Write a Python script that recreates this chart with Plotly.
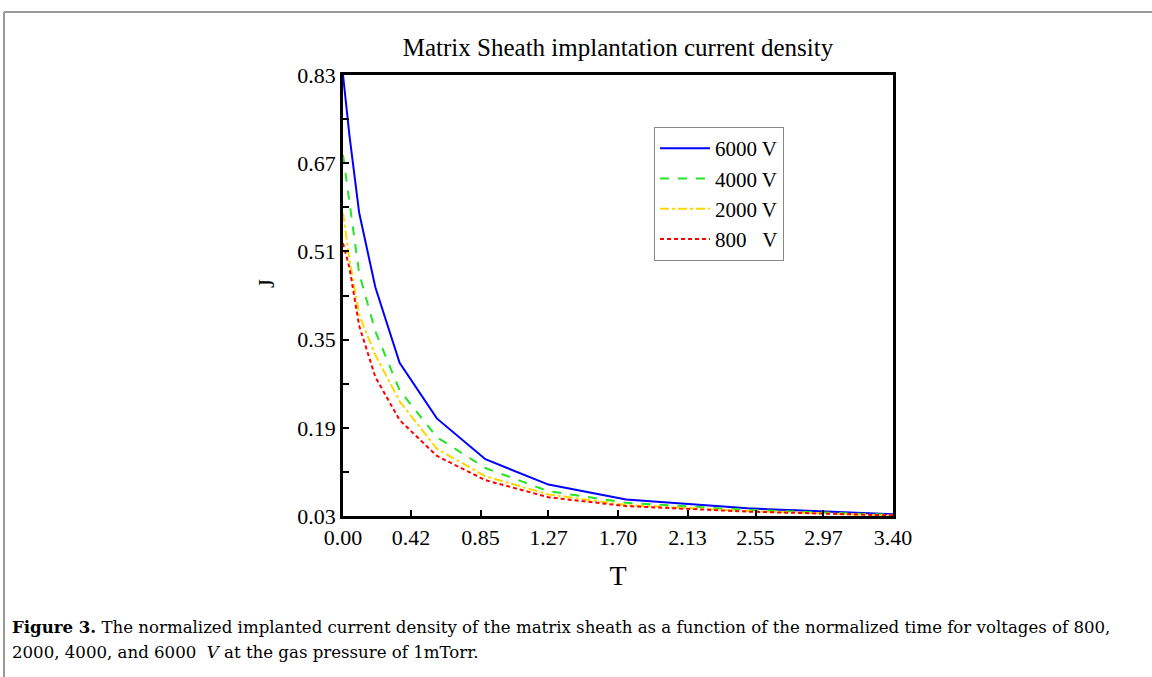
import plotly.graph_objects as go

# ---- data ----
T = [0.0, 0.04, 0.10, 0.20, 0.35, 0.58, 0.88, 1.27, 1.75, 2.50, 3.40]
J_6000 = [0.83, 0.72, 0.58, 0.445, 0.308, 0.207, 0.133, 0.087, 0.060, 0.044, 0.033]
J_4000 = [0.685, 0.600, 0.470, 0.365, 0.258, 0.173, 0.117, 0.075, 0.054, 0.041, 0.032]
J_2000 = [0.580, 0.495, 0.395, 0.322, 0.238, 0.152, 0.102, 0.069, 0.050, 0.039, 0.031]
J_800 = [0.525, 0.480, 0.375, 0.282, 0.204, 0.139, 0.095, 0.064, 0.048, 0.038, 0.031]

series_names = ["6000 V", "4000 V", "2000 V", "800&nbsp;&nbsp;&nbsp;V"]
series_values = [J_6000, J_4000, J_2000, J_800]
series_colors = ["#0000ff", "#22e622", "#ffd700", "#ff0000"]
series_dash = ["solid", "dash", "dashdot", "4px,3px"]

y_ticks = [0.03, 0.19, 0.35, 0.51, 0.67, 0.83]
y_minor = [0.11, 0.27, 0.43, 0.59, 0.75]
x_ticks = [0.00, 0.42, 0.85, 1.27, 1.70, 2.13, 2.55, 2.97, 3.40]

FONT = "Liberation Serif"
CAP_FONT = "DejaVu Serif"

fig = go.Figure()
for name, vals, col, dash in zip(series_names, series_values, series_colors, series_dash):
    fig.add_trace(go.Scatter(x=T, y=vals, mode="lines", name=name,
                             line=dict(color=col, width=2, dash=dash)))

# plot area: x 343..893 px, y 75..516 px
L, R, TOP, BOT = 343, 893, 75, 516
W, H = 1152, 677
pw, ph = R - L, BOT - TOP

def px(x):
    return (x - L) / pw

def py(y):
    return (BOT - y) / ph

fig.update_layout(
    width=W, height=H,
    margin=dict(l=L, r=W - R, t=TOP, b=H - BOT),
    paper_bgcolor="white", plot_bgcolor="white",
    font=dict(family=FONT, color="black", size=22),
    showlegend=True,
    title=dict(text="Matrix Sheath implantation current density",
               x=px(618), xref="paper", xanchor="center",
               y=1 - 47 / H, yanchor="middle",
               font=dict(family=FONT, size=25, color="black")),
    legend=dict(x=px(654), y=py(127), xanchor="left", yanchor="top",
                bordercolor="#888888", borderwidth=1, bgcolor="white",
                font=dict(family=FONT, size=21, color="black"),
                tracegroupgap=0, itemwidth=50),
)

fig.update_xaxes(
    range=[0, 3.4], tickmode="array", tickvals=x_ticks,
    ticktext=[f"{v:.2f}" for v in x_ticks],
    ticks="inside", ticklen=6, tickwidth=1.5, tickcolor="black",
    showline=True, linecolor="black", linewidth=2.5, mirror=True,
    showgrid=False, zeroline=False,
    tickfont=dict(family=FONT, size=22, color="black"),
    title=dict(text="T", standoff=17, font=dict(family=FONT, size=28, color="black")),
)
fig.update_yaxes(
    range=[0.03, 0.83], tickmode="array", tickvals=y_ticks,
    ticktext=[f"{v:.2f}" for v in y_ticks],
    ticks="inside", ticklen=6, tickwidth=1.5, tickcolor="black",
    minor=dict(tickvals=y_minor, ticks="inside", ticklen=6, tickwidth=1.5, tickcolor="black"),
    showline=True, linecolor="black", linewidth=2.5, mirror=True,
    showgrid=False, zeroline=False,
    tickfont=dict(family=FONT, size=22, color="black"),
)

# y-axis title placed where the reference shows it
fig.add_annotation(xref="paper", yref="paper", x=px(266), y=py(284),
                   xanchor="center", yanchor="middle", showarrow=False,
                   text="J", textangle=-90,
                   font=dict(family=FONT, size=23, color="black"))

# page frame lines
fig.add_shape(type="line", xref="paper", yref="paper",
              x0=px(4), x1=px(1152), y0=py(12), y1=py(12),
              line=dict(color="#999999", width=2))
fig.add_shape(type="line", xref="paper", yref="paper",
              x0=px(4), x1=px(4), y0=py(12), y1=py(677),
              line=dict(color="#999999", width=2))

# caption
fig.add_annotation(xref="paper", yref="paper", x=px(10), y=py(627),
                   xanchor="left", yanchor="middle", showarrow=False,
                   text="<b>Figure 3.</b> The normalized implanted current density of the matrix sheath as a function of the normalized time for voltages of 800,",
                   font=dict(family=CAP_FONT, size=16.6, color="black"))
fig.add_annotation(xref="paper", yref="paper", x=px(10), y=py(652),
                   xanchor="left", yanchor="middle", showarrow=False,
                   text="2000, 4000, and 6000 &nbsp;<i>V</i> at the gas pressure of 1mTorr.",
                   font=dict(family=CAP_FONT, size=16.6, color="black"))

fig.write_html("out.html", config={"displayModeBar": False},
               post_script="document.body.style.margin='0px';")
